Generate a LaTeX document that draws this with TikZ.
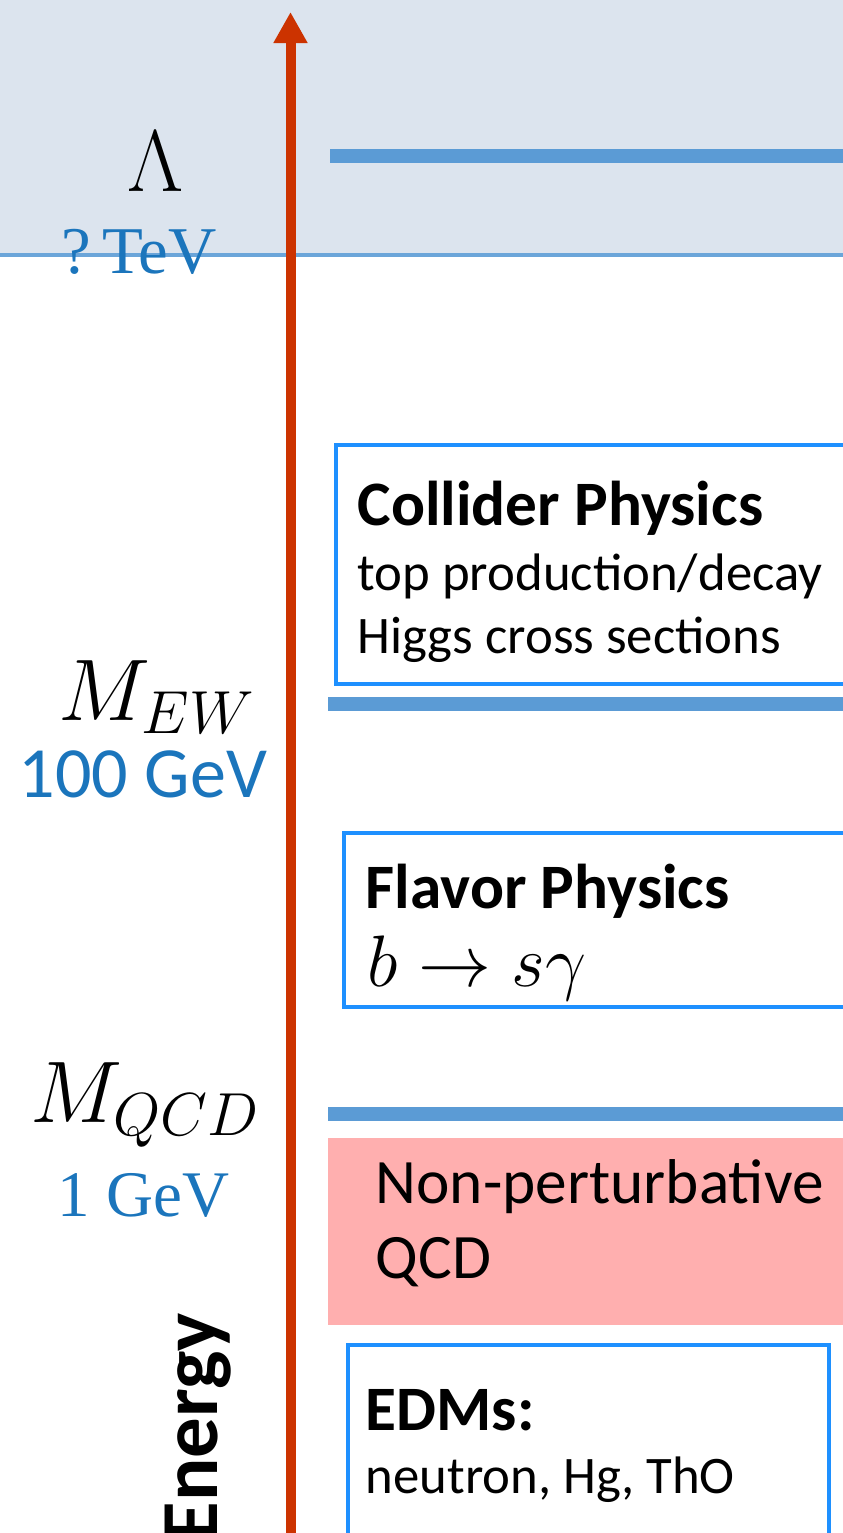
\documentclass[tikz,border=0pt]{standalone}
\usepackage{amsmath,amssymb}
\usepackage{fontspec}
\setmainfont{Carlito}
\newfontfamily\scalefont{Liberation Serif}
\usepackage{tikz}
\usetikzlibrary{arrows.meta,positioning,calc}
\usepackage{xcolor}
\definecolor{SkyBand}{HTML}{DCE4EE}
\definecolor{LevelBlue}{HTML}{5B9BD5}
\definecolor{BoxBlue}{HTML}{1E90FF}
\definecolor{AxisRed}{HTML}{CC3300}
\definecolor{NpPink}{HTML}{FFAFAF}
\definecolor{ScaleBlue}{HTML}{1B75BC}

\tikzset{
  txt/.style={inner sep=0pt,anchor=base west},
  boxtitle/.style={txt,font=\bfseries\fontsize{18}{21}\selectfont},
  boxline/.style={txt,font=\fontsize{15}{18}\selectfont},
  scalesym/.style={inner sep=0pt,font=\fontsize{23.5}{26}\selectfont},
  level/.style={LevelBlue,line width=0.14cm},
  physbox/.style={BoxBlue,line width=0.9pt},
}

\begin{document}
\begin{tikzpicture}[x=0.01cm,y=-0.01cm,>=Latex]
  \useasboundingbox (0,0) rectangle (843,1533);
  \clip (0,0) rectangle (843,1533);
  % new physics band
  \fill[SkyBand] (0,0) rectangle (843,255);
  \draw[LevelBlue!90!white,line width=0.9pt] (0,255) -- (843,255);

  % energy levels
  \draw[level] (330,156) -- (843,156);
  \draw[level] (328,703.5) -- (843,703.5);
  \draw[level] (328,1114) -- (843,1114);

  % boxes
  \draw[physbox] (336,445) rectangle (870,684);
  \draw[physbox] (344,833) rectangle (870,1007);
  \fill[NpPink] (328,1138) rectangle (870,1325);
  \draw[physbox] (348,1345) rectangle (829,1570);

  % energy axis
  \coordinate (axisbot) at (290.5,1540);
  \coordinate (axistop) at (290.5,12);
  \draw[AxisRed,line width=0.1cm,-{Triangle[length=0.31cm,width=0.32cm]}] (axisbot) -- (axistop);
  \node[txt,rotate=90,font=\bfseries\fontsize{23}{26}\selectfont] (energy) at (217,1542) {Energy};

  % scales
  \node[inner sep=0pt,anchor=base,font=\fontsize{25}{28}\selectfont] (lam) at (156,191) {$\Lambda$};
  \node[inner sep=0pt,anchor=base,text=ScaleBlue,font=\scalefont\fontsize{19}{22}\selectfont] (tev) at (139,273) {?\,TeV};
  \node[scalesym,anchor=base west] (mew) at (58,720) {$M_{EW}$};
  \node[txt,text=ScaleBlue,font=\fontsize{20.5}{24}\selectfont] (gev100) at (18,797) {100 GeV};
  \node[scalesym,anchor=base west] (mqcd) at (30,1122) {$M_{QCD}$};
  \node[txt,text=ScaleBlue,font=\scalefont\fontsize{18.5}{22}\selectfont] (gev1) at (57,1216) {1 GeV};

  % box contents
  \node[boxtitle] (colT) at (357,525) {Collider Physics};
  \node[boxline] (colA) at (357,590) {top production/decay};
  \node[boxline] (colB) at (357,653) {Higgs cross sections};

  \node[boxtitle] (flvT) at (365,908) {Flavor Physics};
  \node[txt,font=\fontsize{20.5}{24}\selectfont] (flvA) at (367,986) {$b\to s\gamma$};

  \node[txt,font=\fontsize{18}{21}\selectfont] (npA) at (375,1203) {Non-perturbative};
  \node[txt,font=\fontsize{18}{21}\selectfont] (npB) at (375,1278) {QCD};

  \node[boxtitle] (edmT) at (365,1430) {EDMs:};
  \node[boxline] (edmA) at (365,1493) {neutron, Hg, ThO};
\end{tikzpicture}
\end{document}
